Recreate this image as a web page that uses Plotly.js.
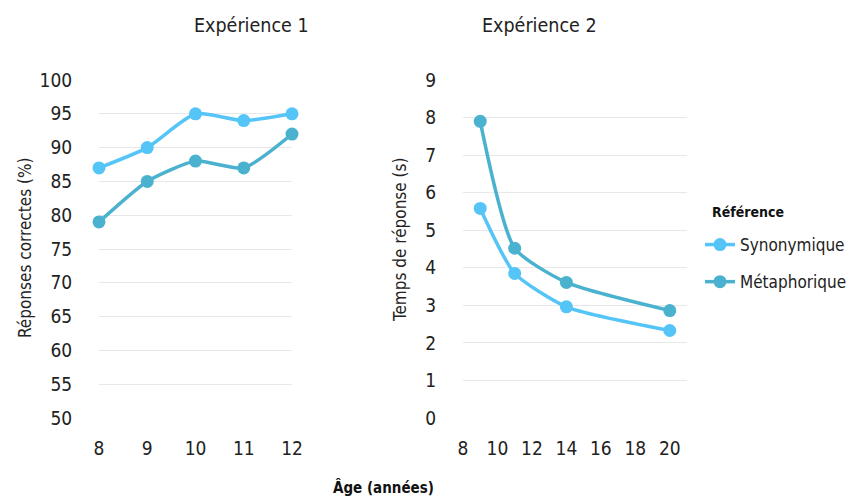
<!DOCTYPE html>
<html><head><meta charset="utf-8">
<script src="https://cdn.plot.ly/plotly-3.0.1.min.js"></script>
<style>html,body{margin:0;padding:0;background:#fff}#c{width:849px;height:497px}</style>
</head><body><div id="c"></div>
<script>
const ages1 = [8, 9, 10, 11, 12];
const exp1Syn = [87, 90, 95, 94, 95];
const exp1Met = [79, 85, 88, 87, 92];
const ages2 = [9, 11, 14, 20];
const exp2Syn = [5.58, 3.85, 2.96, 2.33];
const exp2Met = [7.9, 4.52, 3.61, 2.86];
const seriesNames = ['Synonymique', 'Métaphorique'];
const legendTitle = 'Référence';
const colSyn = '#55C5F7', colMet = '#4AB2CE';
const FONT = '"Liberation Sans Narrow","DejaVu Sans Condensed","Roboto",sans-serif';

function tr(x, y, name, color, xa, ya, show) {
  return {x: x, y: y, name: name, type: 'scatter', mode: 'lines+markers',
    line: {color: color, width: 3.5, shape: 'spline', smoothing: 0.6},
    marker: {color: color, size: 13},
    xaxis: xa, yaxis: ya, showlegend: show, legendgroup: name, cliponaxis: false};
}
const data = [
  tr(ages1, exp1Syn, seriesNames[0], colSyn, 'x', 'y', true),
  tr(ages1, exp1Met, seriesNames[1], colMet, 'x', 'y', true),
  tr(ages2, exp2Syn, seriesNames[0], colSyn, 'x2', 'y2', false),
  tr(ages2, exp2Met, seriesNames[1], colMet, 'x2', 'y2', false)
];
const yd = [79/497, 417/497];
const axBase = {showline: false, zeroline: false, gridcolor: '#e8e8e8', gridwidth: 1, automargin: false,
  tickfont: {family: FONT, size: 19, color: '#222'}, ticks: 'outside', tickcolor: 'rgba(0,0,0,0)'};
const layout = {
  width: 849, height: 497, margin: {l: 0, r: 0, t: 0, b: 0, autoexpand: false},
  paper_bgcolor: '#fff', plot_bgcolor: '#fff',
  font: {family: FONT, color: '#222'},
  xaxis: Object.assign({}, axBase, {domain: [99/849, 292/849], range: [8, 12], tickvals: [8, 9, 10, 11, 12], showgrid: false, ticklen: 13}),
  yaxis: Object.assign({}, axBase, {domain: yd, range: [50, 100], dtick: 5, ticklen: 22}),
  xaxis2: Object.assign({}, axBase, {domain: [463/849, 687/849], range: [8, 21], tickvals: [8, 10, 12, 14, 16, 18, 20], showgrid: false, ticklen: 13, anchor: 'y2'}),
  yaxis2: Object.assign({}, axBase, {domain: yd, range: [0, 9], dtick: 1, ticklen: 22, anchor: 'x2'}),
  legend: {x: 700/849, y: 1 - 227/497, xanchor: 'left', yanchor: 'top',
    font: {family: FONT, size: 17, color: '#222'}, itemwidth: 30, tracegroupgap: 12, bgcolor: 'rgba(0,0,0,0)'},
  annotations: [
    {text: 'Expérience 1', x: 192/849, y: 1 - 25/497, xref: 'paper', yref: 'paper', yanchor: 'middle', showarrow: false, font: {family: FONT, size: 19.5, color: '#222'}},
    {text: 'Expérience 2', x: 539/849, y: 1 - 25/497, xref: 'paper', yref: 'paper', yanchor: 'middle', showarrow: false, font: {family: FONT, size: 19.5, color: '#222'}},
    {text: 'Réponses correctes (%)', x: 25/849, y: 1 - 248/497, xref: 'paper', yref: 'paper', xanchor: 'center', yanchor: 'middle', textangle: -90, showarrow: false, font: {family: FONT, size: 17, color: '#222'}},
    {text: 'Temps de réponse (s)', x: 400/849, y: 1 - 240/497, xref: 'paper', yref: 'paper', xanchor: 'center', yanchor: 'middle', textangle: -90, showarrow: false, font: {family: FONT, size: 17, color: '#222'}},
    {text: legendTitle, x: 710/849, y: 1 - 212/497, xref: 'paper', yref: 'paper', xanchor: 'left', yanchor: 'middle', showarrow: false, font: {family: FONT, size: 14, color: '#111', weight: 'bold'}},
    {text: 'Âge (années)', x: 383/849, y: 1 - 487/497, xref: 'paper', yref: 'paper', yanchor: 'middle', showarrow: false, font: {family: FONT, size: 15, color: '#111', weight: 'bold'}}
  ]
};
Plotly.newPlot('c', data, layout, {displayModeBar: false, staticPlot: true});
</script></body></html>
